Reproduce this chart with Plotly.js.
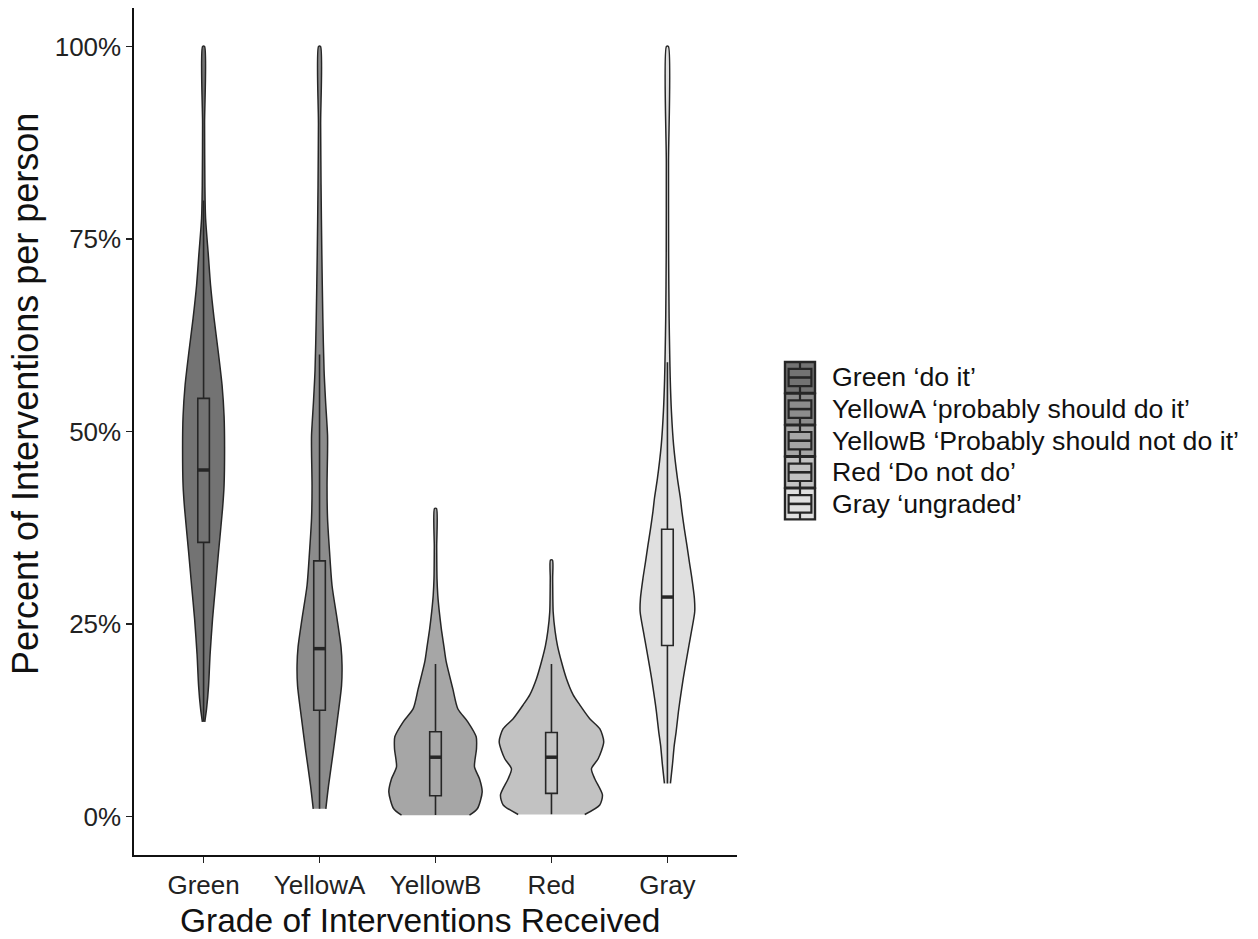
<!DOCTYPE html>
<html>
<head>
<meta charset="utf-8">
<script src="https://cdn.plot.ly/plotly-3.0.1.min.js"></script>
<style>
  html, body { margin: 0; padding: 0; background: #ffffff; }
  #chart { width: 1258px; height: 939px; }
</style>
</head>
<body>
<div id="chart"></div>
<script>
// ---------------- DATA ----------------
const categories = ['Green', 'YellowA', 'YellowB', 'Red', 'Gray'];
const legendLabels = [
  'Green \u2018do it\u2019',
  'YellowA \u2018probably should do it\u2019',
  'YellowB \u2018Probably should not do it\u2019',
  'Red \u2018Do not do\u2019',
  'Gray \u2018ungraded\u2019'
];
const yTickVals = [0, 25, 50, 75, 100];
const yTickText = ['0%', '25%', '50%', '75%', '100%'];
const xTitle = 'Grade of Interventions Received';
const yTitle = 'Percent of Interventions per person';

// Violin density profiles: percent levels and relative density (half-width, arbitrary units)
const greenLevels   = [12.3, 14, 17, 21, 25.7, 30, 34.4, 40, 43, 48, 52, 56, 60, 64.7, 69, 73, 77.7, 82, 90, 100];
const greenDensity  = [1.2, 3, 5, 6.5, 9, 12, 15, 19, 20.5, 21, 20.5, 18.5, 15, 10.5, 7, 4.7, 2, 1.3, 1, 1];

const yellowALevels  = [1, 4, 8.4, 12.7, 17, 19.6, 22, 25.7, 30, 34.4, 38.7, 43, 47.4, 49.5, 54, 58, 64.7, 73, 82, 90, 100];
const yellowADensity = [6.3, 9, 13.7, 18, 22, 22.5, 21.5, 17.5, 12.5, 10, 8, 7.5, 8, 8, 6, 4.5, 3.3, 2.3, 1.5, 1.1, 1];

const yellowBLevels  = [0.17, 1.04, 3.2, 4.9, 6.45, 8.8, 10.35, 12.3, 14.0, 16.6, 20.1, 22.2, 24.4, 26.6, 28.7, 30.9, 35, 40];
const yellowBDensity = [34, 42, 46.7, 44, 39, 41, 40.7, 32.3, 22.3, 17.3, 10.7, 8.3, 5.8, 3.8, 2.3, 1.5, 1.2, 1];

const redLevels  = [0.26, 1.5, 2.8, 4.9, 6.2, 7.5, 9.7, 11.4, 12.7, 14.5, 15.8, 17.9, 20.1, 22.2, 24, 26.6, 30.9, 33.3];
const redDensity = [33.3, 48.3, 51, 43.3, 40, 46.7, 52.3, 48.3, 38.3, 28.3, 21.7, 15, 10, 6, 3.7, 1.7, 1.2, 1];

const grayLevels  = [4.3, 6.7, 9.2, 11, 13.6, 15.3, 17.9, 19.6, 22.2, 24, 26.6, 28.3, 30.9, 33, 35.2, 37.3, 39.6, 41.3, 43.9, 48.2, 52.6, 56.9, 60, 64.7, 73, 85, 100];
const grayDensity = [3, 5, 6.8, 8.7, 11, 12.8, 15.8, 18, 21.5, 24, 27.3, 27, 24.5, 22, 19.5, 17, 14.5, 13, 10, 6.2, 4, 2.8, 2.3, 1.7, 1.2, 1.1, 1];

// Box plot statistics (percent)
const boxQ1     = [35.6, 13.8, 2.7, 3.0, 22.2];
const boxMedian = [45.0, 21.8, 7.7, 7.7, 28.5];
const boxQ3     = [54.3, 33.2, 11.0, 10.9, 37.3];
const boxLower  = [12.3, 1.0, 0.2, 0.3, 4.3];
const boxUpper  = [80.0, 60.0, 19.8, 19.8, 59.0];

// ---------------- STYLE ----------------
const fills = ['#737373', '#8c8c8c', '#a6a6a6', '#c2c2c2', '#e0e0e0'];
const outline = '#262626';
const FONT = 'Liberation Sans, Arial, Helvetica, sans-serif';
const DENSITY_SCALE = 1 / 116;   // density units -> category units
const BOX_WIDTH = 0.1;
const X_RANGE = [-0.6, 4.6];
const Y_RANGE = [-5, 105];

const profiles = [
  [greenLevels, greenDensity],
  [yellowALevels, yellowADensity],
  [yellowBLevels, yellowBDensity],
  [redLevels, redDensity],
  [grayLevels, grayDensity]
];

const traces = [];
profiles.forEach(([lv, dn], i) => {
  const xs = [], ys = [];
  for (let k = 0; k < lv.length; k++) { xs.push(i + dn[k] * DENSITY_SCALE); ys.push(lv[k]); }
  for (let k = lv.length - 1; k >= 0; k--) { xs.push(i - dn[k] * DENSITY_SCALE); ys.push(lv[k]); }
  traces.push({
    type: 'scatter', mode: 'lines', x: xs, y: ys,
    fill: 'toself', fillcolor: fills[i],
    line: { color: outline, width: 1.5, shape: 'spline', smoothing: 0.7 },
    hoverinfo: 'skip', showlegend: false
  });
});

// boxes on an overlaying subplot so they sit above the violins
categories.forEach((c, i) => {
  traces.push({
    type: 'box', xaxis: 'x2', yaxis: 'y2',
    x: [i], q1: [boxQ1[i]], median: [boxMedian[i]], q3: [boxQ3[i]],
    lowerfence: [boxLower[i]], upperfence: [boxUpper[i]],
    width: BOX_WIDTH, whiskerwidth: 0, boxpoints: false,
    fillcolor: fills[i], line: { color: outline, width: 1.6 },
    showlegend: false, hoverinfo: 'skip'
  });
  traces.push({
    type: 'scatter', mode: 'lines', xaxis: 'x2', yaxis: 'y2',
    x: [i - BOX_WIDTH / 2, i + BOX_WIDTH / 2], y: [boxMedian[i], boxMedian[i]],
    line: { color: outline, width: 3.5 }, showlegend: false, hoverinfo: 'skip'
  });
});

// ---------------- LAYOUT ----------------
const W = 1258, H = 939;
const M = { l: 134, r: 521, t: 8, b: 84 };
const plotW = W - M.l - M.r, plotH = H - M.t - M.b;
const px2x = p => (p - M.l) / plotW;
const px2y = p => (H - M.b - p) / plotH;

const shapes = [], annotations = [];
const keyLeft = 785, keyW = 30, keyH = 31, rowStep = 31.6, firstTop = 362;
legendLabels.forEach((lab, i) => {
  const top = firstTop + i * rowStep, bot = top + keyH;
  const l = keyLeft, r = keyLeft + keyW, cx = keyLeft + keyW / 2;
  const bt = top + keyH * 0.22, bb = top + keyH * 0.78, mid = (top + bot) / 2;
  const bl = l + keyW * 0.12, br = r - keyW * 0.12;
  const base = { xref: 'paper', yref: 'paper', layer: 'above' };
  shapes.push(Object.assign({}, base, { type: 'rect', x0: px2x(l), x1: px2x(r), y0: px2y(top), y1: px2y(bot),
    fillcolor: fills[i], line: { color: outline, width: 2.4 } }));
  shapes.push(Object.assign({}, base, { type: 'line', x0: px2x(cx), x1: px2x(cx), y0: px2y(top), y1: px2y(bt),
    line: { color: outline, width: 2.2 } }));
  shapes.push(Object.assign({}, base, { type: 'line', x0: px2x(cx), x1: px2x(cx), y0: px2y(bb), y1: px2y(bot),
    line: { color: outline, width: 2.2 } }));
  shapes.push(Object.assign({}, base, { type: 'rect', x0: px2x(bl), x1: px2x(br), y0: px2y(bt), y1: px2y(bb),
    fillcolor: fills[i], line: { color: outline, width: 2.2 } }));
  shapes.push(Object.assign({}, base, { type: 'line', x0: px2x(bl), x1: px2x(br), y0: px2y(mid), y1: px2y(mid),
    line: { color: outline, width: 2.6 } }));
  annotations.push({ xref: 'paper', yref: 'paper', x: px2x(830), y: px2y(mid), xanchor: 'left', yanchor: 'middle',
    text: lab, showarrow: false, font: { family: FONT, size: 26.7, color: '#111' } });
});

// axis titles (placed as in the reference)
annotations.push({ xref: 'paper', yref: 'paper', x: px2x(420), y: px2y(920), xanchor: 'center', yanchor: 'middle',
  text: xTitle, showarrow: false, font: { family: FONT, size: 33.5, color: '#111' } });
annotations.push({ xref: 'paper', yref: 'paper', x: px2x(25), y: px2y(394), xanchor: 'center', yanchor: 'middle',
  text: yTitle, textangle: -90, showarrow: false, font: { family: FONT, size: 36, color: '#111' } });

const layout = {
  width: W, height: H, margin: M,
  paper_bgcolor: '#ffffff', plot_bgcolor: '#ffffff',
  showlegend: false, font: { family: FONT },
  xaxis: {
    range: X_RANGE, tickmode: 'array', tickvals: [0, 1, 2, 3, 4], ticktext: categories,
    showline: true, linecolor: '#111', linewidth: 1.6, mirror: false,
    ticks: 'outside', ticklen: 6, tickwidth: 1.5, tickcolor: '#222',
    showgrid: false, zeroline: false,
    tickfont: { family: FONT, size: 26, color: '#222' }
  },
  yaxis: {
    range: Y_RANGE, tickmode: 'array', tickvals: yTickVals, ticktext: yTickText,
    showline: true, linecolor: '#111', linewidth: 1.6,
    ticks: 'outside', ticklen: 6, tickwidth: 1.5, tickcolor: '#222',
    showgrid: false, zeroline: false,
    tickfont: { family: FONT, size: 26, color: '#222' }
  },
  xaxis2: { overlaying: 'x', range: X_RANGE, visible: false, showgrid: false, zeroline: false },
  yaxis2: { overlaying: 'y', range: Y_RANGE, visible: false, showgrid: false, zeroline: false },
  shapes: shapes, annotations: annotations
};

Plotly.newPlot('chart', traces, layout, { staticPlot: true, displayModeBar: false });
</script>
</body>
</html>
